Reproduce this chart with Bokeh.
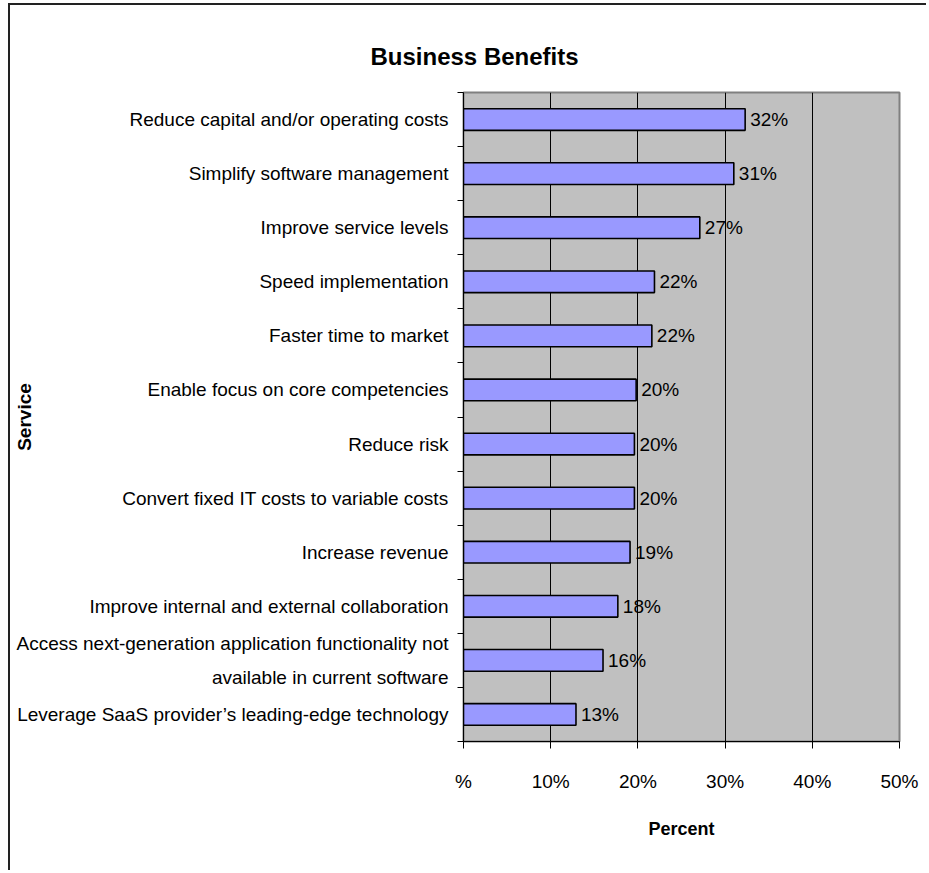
import math
from bokeh.plotting import figure
from bokeh.models import ColumnDataSource, FixedTicker, Title
from bokeh.embed import file_html
from bokeh.resources import INLINE

# ---- data (top to bottom as shown) ----
categories = [
    "Reduce capital and/or operating costs",
    "Simplify software management",
    "Improve service levels",
    "Speed implementation",
    "Faster time to market",
    "Enable focus on core competencies",
    "Reduce risk",
    "Convert fixed IT costs to variable costs",
    "Increase revenue",
    "Improve internal and external collaboration",
    "Access next-generation application functionality not\navailable in current software",
    "Leverage SaaS provider\u2019s leading-edge technology",
]
values = [32.3, 31.0, 27.1, 21.9, 21.6, 19.8, 19.6, 19.6, 19.1, 17.7, 16.0, 12.9]
value_labels = ["32%", "31%", "27%", "22%", "22%", "20%", "20%", "20%", "19%", "18%", "16%", "13%"]
x_ticks = [0, 10, 20, 30, 40, 50]
x_tick_labels = ["%", "10%", "20%", "30%", "40%", "50%"]
title_text = "Business Benefits"
x_title = "Percent"
y_title = "Service"

n = len(categories)
centers = [n - 1 - i + 0.5 for i in range(n)]
boundaries = list(range(n + 1))

src = ColumnDataSource(dict(y=centers, v=values, lab=value_labels))

FONT = "Liberation Sans"
W, H = 918, 867
p = figure(width=W, height=H, x_range=(x_ticks[0], x_ticks[-1]), y_range=(0, n),
           output_backend="svg", toolbar_location=None,
           min_border_left=453, min_border_top=87, min_border_right=29, min_border_bottom=131)
p.styles = {"margin-left": "8px", "margin-top": "3px",
            "border-left": "2px solid #222222", "border-top": "2px solid #222222"}
p.border_fill_color = "#ffffff"

p.hbar(y="y", right="v", left=0, height=0.4, source=src,
       fill_color="#9999FF", line_color="#000000", line_width=1.6)
p.text(x="v", y="y", text="lab", source=src, x_offset=5, text_baseline="middle",
       text_align="left", text_font_size="19px", text_font={"value": FONT}, text_color="#000000")

# frame
p.background_fill_color = "#C0C0C0"
p.outline_line_color = "#808080"
p.outline_line_width = 2

# title
p.title.text = title_text
p.title.align = "left"
p.title.offset = -93
p.title.standoff = 46
p.title.text_font = FONT
p.title.text_font_size = "24px"
p.title.text_font_style = "bold"
p.title.text_color = "#000000"

# x axis
xa = p.xaxis[0]
xa.ticker = FixedTicker(ticks=x_ticks)
xa.major_label_overrides = {t: l for t, l in zip(x_ticks, x_tick_labels)}
xa.major_label_text_font = FONT
xa.major_label_text_font_size = "19px"
xa.major_label_text_color = "#000000"
xa.major_tick_in = 0
xa.major_tick_out = 7
xa.minor_tick_out = 0
xa.minor_tick_in = 0
xa.axis_line_color = "#000000"
xa.major_tick_line_color = "#000000"
xa.major_label_standoff = 22
xa.axis_label = x_title
xa.axis_label_text_font = FONT
xa.axis_label_text_font_style = "bold"
xa.axis_label_text_font_size = "18px"
xa.axis_label_text_color = "#000000"
xa.axis_label_standoff = 24

# y axis
ya = p.yaxis[0]
ya.ticker = FixedTicker(ticks=centers, minor_ticks=boundaries)
ya.major_label_overrides = {c: l for c, l in zip(centers, categories)}
ya.major_label_text_font = FONT
ya.major_label_text_font_size = "19px"
ya.major_label_text_color = "#000000"
ya.major_label_text_line_height = 1.6
ya.major_tick_in = 0
ya.major_tick_out = 0
ya.minor_tick_in = 0
ya.minor_tick_out = 6
ya.minor_tick_line_color = "#000000"
ya.axis_line_color = "#000000"
ya.major_label_standoff = 9

# grid
p.ygrid.visible = False
p.xgrid.ticker = FixedTicker(ticks=x_ticks[1:-1])
p.xgrid.grid_line_color = "#000000"
p.xgrid.grid_line_width = 1

# y title as a left-side title
p.add_layout(Title(text=y_title, align="center", vertical_align="bottom", standoff=-42,
                   text_font=FONT, text_font_size="19px", text_font_style="bold",
                   text_color="#000000"), "left")

open("out.html", "w").write(file_html(p, INLINE))
